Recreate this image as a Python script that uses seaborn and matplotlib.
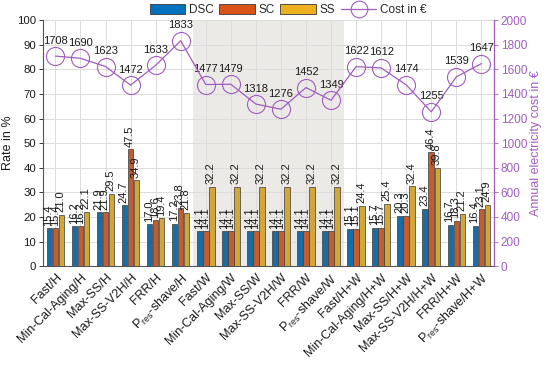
import numpy as np
import pandas as pd
import matplotlib
matplotlib.use('Agg')
import matplotlib.pyplot as plt
import matplotlib.patches as mpatches
import matplotlib.lines as mlines
import seaborn as sns

# Strategy / scenario categories
categories = [
    'Fast/H', 'Min-Cal-Aging/H', 'Max-SS/H', 'Max-SS-V2H/H', 'FRR/H', r'P$_{\mathrm{res}}$-shave/H',
    'Fast/W', 'Min-Cal-Aging/W', 'Max-SS/W', 'Max-SS-V2H/W', 'FRR/W', r'P$_{\mathrm{res}}$-shave/W',
    'Fast/H+W', 'Min-Cal-Aging/H+W', 'Max-SS/H+W', 'Max-SS-V2H/H+W', 'FRR/H+W', r'P$_{\mathrm{res}}$-shave/H+W',
]

# Rates in %
dsc = [15.4, 16.2, 21.9, 24.7, 17.0, 17.2,
       14.1, 14.1, 14.1, 14.1, 14.1, 14.1,
       15.1, 15.7, 20.3, 23.4, 16.7, 16.4]
sc = [15.4, 16.2, 21.9, 47.5, 18.6, 23.8,
      14.1, 14.1, 14.1, 14.1, 14.1, 14.1,
      15.1, 15.7, 20.3, 46.4, 18.3, 23.1]
ss = [21.0, 22.1, 29.5, 34.9, 19.4, 21.8,
      32.2, 32.2, 32.2, 32.2, 32.2, 32.2,
      24.4, 25.4, 32.4, 39.8, 21.2, 24.9]

# Annual electricity cost in EUR
cost = [1708, 1690, 1623, 1472, 1633, 1833,
        1477, 1479, 1318, 1276, 1452, 1349,
        1622, 1612, 1474, 1255, 1539, 1647]

series_names = ['DSC', 'SC', 'SS']
colors = {'DSC': '#0072BD', 'SC': '#D95319', 'SS': '#EDB120'}
purple = '#a05cbf'

df = pd.DataFrame({
    'category': categories * 3,
    'metric': ['DSC'] * len(categories) + ['SC'] * len(categories) + ['SS'] * len(categories),
    'rate': dsc + sc + ss,
})

sns.set_style('white')
plt.rcParams['font.family'] = ['Liberation Sans', 'DejaVu Sans']
plt.rcParams['mathtext.fontset'] = 'custom'
plt.rcParams['mathtext.rm'] = 'Liberation Sans'
plt.rcParams['mathtext.it'] = 'Liberation Sans:italic'

fig = plt.figure(figsize=(5.5, 3.88), dpi=100)
ax = fig.add_axes([0.078, 0.314, 0.82, 0.634])

sns.barplot(data=df, x='category', y='rate', hue='metric', order=categories,
            hue_order=series_names, palette=colors, width=0.72, gap=0.08,
            edgecolor='#3a3a3a', linewidth=0.5, ax=ax, legend=False, zorder=3)

# value labels, text sits just left of each bar's centre (like the original)
for cont in ax.containers:
    anns = ax.bar_label(cont, fmt='%.1f', rotation=90, padding=2, fontsize=8, color='#1a1a1a')
    for a in anns:
        a.set_horizontalalignment('right')
        a.xyann = (3, 2)

# shaded W block
w_idx = [i for i, c in enumerate(categories) if c.endswith('/W')]
ax.axvspan(min(w_idx) - 0.5, max(w_idx) + 0.5, color='#ebeae6', zorder=0, lw=0)

ax.set_ylim(0, 100)
ax.set_yticks(np.arange(0, 101, 10))
ax.grid(True, color='#dcdcdc', lw=0.7, zorder=1)
ax.set_axisbelow(True)
ax.set_xlabel('')
ax.set_ylabel('Rate in %', fontsize=9, color='#1a1a1a', labelpad=2)
ax.tick_params(axis='y', labelsize=8.2, colors='#1a1a1a', direction='out', length=3, width=0.6, pad=2)
ax.tick_params(axis='x', labelsize=9, colors='#1a1a1a', direction='out', length=3, width=0.6, pad=1)
ax.set_xticks(range(len(categories)))
ax.set_xticklabels(categories, rotation=45, ha='right', rotation_mode='anchor', fontsize=9)
ax.spines['top'].set_visible(False)
for side in ['left', 'bottom']:
    ax.spines[side].set_color('#555555')
    ax.spines[side].set_linewidth(0.8)

# cost line on right axis
ax2 = ax.twinx()
xpos = np.arange(len(categories))
sns.lineplot(x=xpos, y=cost, ax=ax2, color=purple, lw=0.9, marker='o', markersize=13,
             markerfacecolor='none', markeredgecolor=purple, markeredgewidth=0.8, zorder=4)
for x, v in zip(xpos, cost):
    ax2.annotate(f'{v}', (x, v), xytext=(0, 7.5), textcoords='offset points',
                 ha='center', va='bottom', fontsize=8, color='#1a1a1a')
ax2.set_ylim(0, 2000)
ax2.set_yticks(np.arange(0, 2001, 200))
ax2.set_ylabel('Annual electricity cost in €', fontsize=9, color=purple, labelpad=2)
ax2.tick_params(axis='y', labelsize=8.5, colors=purple, direction='out', length=3, width=0.6, pad=2)
ax2.spines['right'].set_color(purple)
ax2.spines['right'].set_linewidth(0.8)
for side in ['top', 'left', 'bottom']:
    ax2.spines[side].set_visible(False)
ax2.grid(False)
ax.set_xlim(-0.5, len(categories) - 0.5)

handles = [mpatches.Patch(facecolor=colors[n], edgecolor='#3a3a3a', lw=0.6) for n in series_names]
handles.append(mlines.Line2D([], [], color=purple, lw=0.9, marker='o', markersize=12,
                             markerfacecolor='none', markeredgewidth=0.8))
fig.legend(handles, series_names + ['Cost in €'], loc='center', bbox_to_anchor=(288 / 550, 1 - 10 / 388),
           ncol=4, frameon=False, fontsize=8.5, handlelength=3.0, handleheight=1.0,
           columnspacing=0.5, handletextpad=0.3, borderpad=0.1)

fig.savefig('out.png', dpi=100)
